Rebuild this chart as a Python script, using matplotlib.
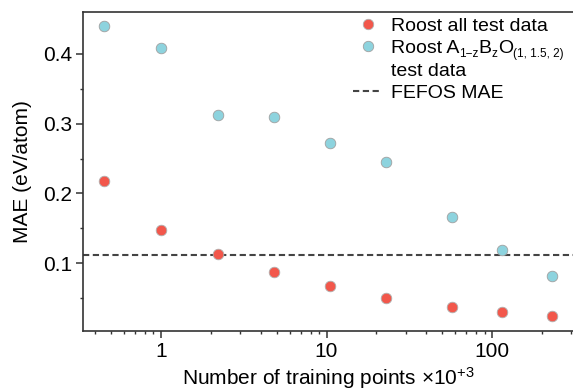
import matplotlib
matplotlib.use("Agg")
import matplotlib.pyplot as plt
from matplotlib.lines import Line2D
from matplotlib.transforms import IdentityTransform
from matplotlib.ticker import LogLocator, FixedLocator, NullFormatter

plt.rcParams['font.family'] = ['Liberation Sans', 'DejaVu Sans']
plt.rcParams['mathtext.fontset'] = 'custom'
plt.rcParams['mathtext.rm'] = 'Liberation Sans'
plt.rcParams['mathtext.it'] = 'Liberation Sans'

# data
train_points = [0.45, 1.0, 2.2, 4.8, 10.5, 23, 57, 115, 230]
mae_all = [0.218, 0.148, 0.1135, 0.088, 0.0675, 0.050, 0.0375, 0.030, 0.0247]
mae_abo = [0.440, 0.408, 0.3125, 0.310, 0.2725, 0.2455, 0.1665, 0.119, 0.0825]
fefos_mae = 0.112

yticks = [0.1, 0.2, 0.3, 0.4]
yminor = [0.05, 0.15, 0.25, 0.35]
xticks = [1, 10, 100]
xticklabels = ['1', '10', '100']

fig = plt.figure(figsize=(5.73, 3.92), dpi=100)
ax = fig.add_axes([83/573, 1-331/392, 1-83/573, (331-12)/392])

red = '#F2574B'
cyan = '#8DD3DE'
ax.scatter(train_points, mae_all, s=58, color=red, edgecolor='#B0B0B0', linewidth=0.6, zorder=3)
ax.scatter(train_points, mae_abo, s=58, color=cyan, edgecolor='#A0A0A0', linewidth=0.6, zorder=3)
ax.axhline(fefos_mae, color='#444444', lw=1.5, linestyle=(0, (3, 1.7)), zorder=2)

ax.set_xscale('log')
ax.set_xlim(0.338, 308)
ax.set_ylim(0.003, 0.460)

ax.xaxis.set_major_locator(FixedLocator(xticks))
ax.set_xticklabels(xticklabels)
ax.xaxis.set_minor_locator(LogLocator(base=10, subs=range(2, 10)))
ax.xaxis.set_minor_formatter(NullFormatter())
ax.set_yticks(yticks)
ax.set_yticklabels([f'{v:.1f}' for v in yticks])
ax.yaxis.set_minor_locator(FixedLocator(yminor))

for s in ['left', 'bottom', 'top']:
    ax.spines[s].set_color('#333333')
    ax.spines[s].set_linewidth(1.2)
ax.spines['right'].set_visible(False)

ax.tick_params(which='major', direction='out', length=5, width=1.1, color='#333333',
               labelsize=15, pad=3, top=False, right=False)
ax.tick_params(which='minor', direction='out', length=2.5, width=1.0, color='#333333',
               top=False, right=False)

ax.set_ylabel('MAE (eV/atom)', fontsize=15, labelpad=8)
ax.set_xlabel('Number of training points \u00d710$^{+3}$', fontsize=15, labelpad=3)

handles = [
    Line2D([], [], marker='o', linestyle='none', markersize=7.5, markerfacecolor=red,
           markeredgecolor='#B0B0B0', markeredgewidth=0.6),
    Line2D([], [], marker='o', linestyle='none', markersize=7.5, markerfacecolor=cyan,
           markeredgecolor='#A0A0A0', markeredgewidth=0.6),
    Line2D([], [], linestyle='none'),
    Line2D([], [], color='#444444', lw=1.5, linestyle=(0, (3, 1.7))),
]
labels = [
    'Roost all test data',
    'Roost A',
    'test data',
    'FEFOS MAE',
]
# rest of the second label: (text, is_subscript)
label2_parts = [('1\u2212z', True), ('B', False), ('z', True), ('O', False), ('(1, 1.5, 2)', True)]

leg = ax.legend(handles, labels, loc='upper left', bbox_to_anchor=(353/573, 1-17/392),
                bbox_transform=fig.transFigure,
                frameon=False, fontsize=14, handlelength=1.5, handletextpad=0.46,
                labelspacing=0.25, borderaxespad=0.0, borderpad=0.0)

fig.canvas.draw()
renderer = fig.canvas.get_renderer()
t2 = leg.get_texts()[1]
bb = t2.get_window_extent(renderer)
x_cur = bb.x1
y_base = t2.get_transform().transform(t2.get_position())[1]
for txt, sub in label2_parts:
    size = 8.5 if sub else 14
    dy = -4 if sub else 0
    t = fig.text(x_cur, y_base + dy, txt, fontsize=size, va='baseline', ha='left',
                 transform=IdentityTransform())
    x_cur += t.get_window_extent(renderer).width

fig.savefig('out.png', dpi=100)
